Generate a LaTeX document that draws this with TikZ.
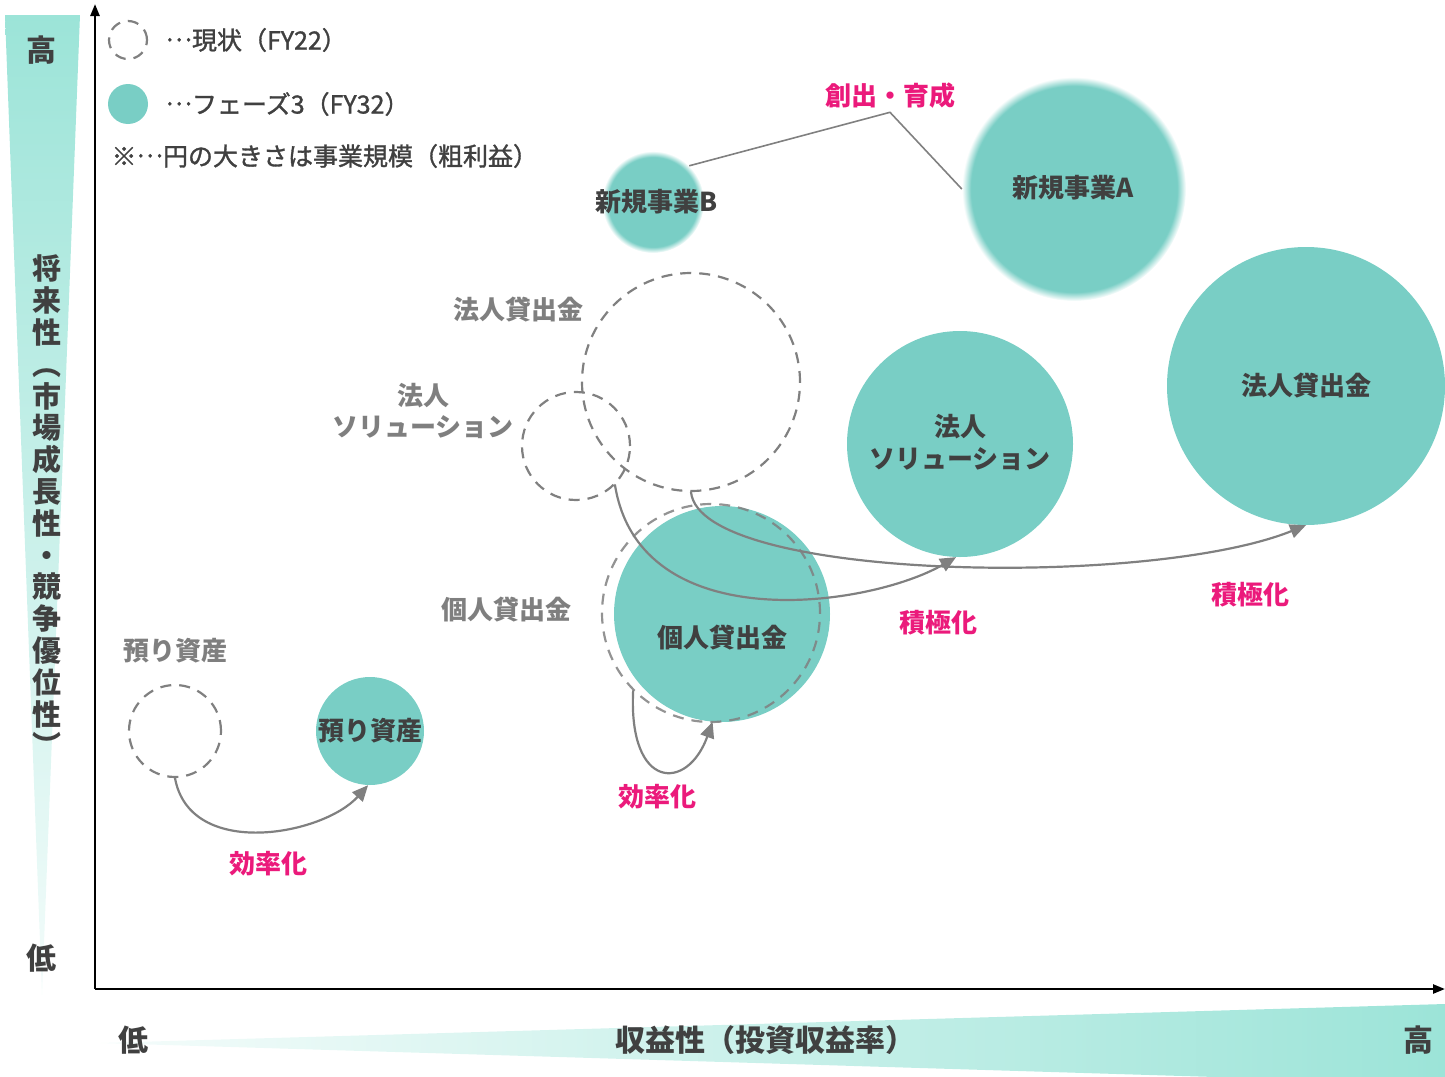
\documentclass[tikz,border=0pt]{standalone}
\usepackage{fontspec}
\setmainfont{Noto Sans CJK JP}
\newfontfamily\medfont{Noto Sans CJK JP}[FakeBold=1.3]
\usetikzlibrary{arrows.meta}
\definecolor{tealfill}{HTML}{79CEC5}
\definecolor{barcol}{HTML}{9CE4D8}
\definecolor{txtdark}{HTML}{404040}
\definecolor{txtgray}{HTML}{7F7F7F}
\definecolor{linegray}{HTML}{808080}
\definecolor{pinktxt}{HTML}{EB1A7B}
\pgfdeclareradialshading{blurB}{\pgfpoint{0bp}{0bp}}{color(0bp)=(tealfill); color(22bp)=(tealfill); color(25bp)=(white); color(50bp)=(white)}
\pgfdeclareradialshading{blurA}{\pgfpoint{0bp}{0bp}}{color(0bp)=(tealfill); color(23bp)=(tealfill); color(25bp)=(white); color(50bp)=(white)}
\newcommand\mdots{\raisebox{0.33em}{…}}
\begin{document}
\begin{tikzpicture}[x=1pt,y=-1pt,line join=round,
	now/.style={circle,draw=linegray,line width=2.2pt,dash pattern=on 11pt off 8pt,inner sep=0pt},
	fut/.style={circle,fill=tealfill,inner sep=0pt},
	dark/.style={text=txtdark,font=\fontsize{26}{32}\selectfont\bfseries,align=center},
	gray/.style={text=txtgray,font=\fontsize{26}{31}\selectfont\bfseries,align=center},
	pink/.style={text=pinktxt,font=\fontsize{26}{31}\selectfont\bfseries},
	legtxt/.style={anchor=west,text=txtdark,font=\fontsize{25}{30}\selectfont\medfont},
	axlbl/.style={text=txtdark,font=\fontsize{30}{32}\selectfont\bfseries},
	arr/.style={draw=linegray,line width=2.2pt,line cap=round,-{Triangle[length=16pt,width=14pt]}}]
	\useasboundingbox (0,0) rectangle (1445,1076);
	% gradient bars
	\shade[top color=barcol,bottom color=barcol!12] (5,15) -- (80,15) -- (42,995) -- cycle;
	\shade[left color=barcol!10,right color=barcol] (100,1043) -- (1445,1004) -- (1445,1084) -- cycle;
	% axes
	\coordinate (o) at (95,989);
	\coordinate (ytop) at (95,4);
	\coordinate (xend) at (1445,989);
	\draw[line width=2.4pt,-{Triangle[length=12pt,width=9pt]}] (o) -- (ytop);
	\draw[line width=2.4pt,-{Triangle[length=12pt,width=9pt]}] (o) -- (xend);
	\node[axlbl] (yhi) at (42,50) {高};
	\node[axlbl] (ylo) at (42,958) {低};
	\node[axlbl,align=center,font=\fontsize{29}{31.8}\selectfont\bfseries] (ytxt) at (47,506)
		{将\\来\\性\\︵\\市\\場\\成\\長\\性\\・\\競\\争\\優\\位\\性\\︶};
	\node[axlbl] (xlo) at (133,1040) {低};
	\node[axlbl] (xtxt) at (765,1040) {収益性（投資収益率）};
	\node[axlbl] (xhi) at (1418,1040) {高};
	% legend
	\node[now,minimum size=38] (lgNow) at (128,40) {};
	\node[fut,minimum width=38,minimum height=40] (lgFut) at (128,104) {};
	\node[legtxt] (lgNowT) at (162,40) {\mdots 現状（FY22）};
	\node[legtxt] (lgFutT) at (162,104) {\mdots フェーズ3（FY32）};
	\node[legtxt] (lgNote) at (108,156) {※\mdots 円の大きさは事業規模（粗利益）};
	% FY32 circles
	\node[circle,shading=blurB,inner sep=0pt,minimum size=102] (fB) at (653,202) {};
	\node[circle,shading=blurA,inner sep=0pt,minimum size=224] (fA) at (1074,189) {};
	\node[fut,minimum size=226] (fHS) at (960,444) {};
	\node[fut,minimum size=278] (fHK) at (1306,386) {};
	\node[fut,minimum size=216] (fKJ) at (722,614) {};
	\node[fut,minimum size=108] (fAZ) at (370,731) {};
	% FY22 circles
	\node[now,minimum size=218] (dHK) at (691,382) {};
	\node[now,minimum size=108] (dHS) at (576,446) {};
	\node[now,minimum size=218,draw opacity=0.85] (dKJ) at (711,613) {};
	\node[now,minimum size=92] (dAZ) at (175,731) {};
	% arrows
	\node[pink] (sou) at (890,96) {創出・育成};
	\draw[linegray,line width=1.6pt] (fB.45) -- (sou.south) -- (fA.west);
	\draw[arr] (dAZ.south) .. controls +(15,82) and +(-45,50) .. (fAZ.-92);
	\draw[arr] (dKJ.-135) .. controls +(-5,100) and +(-25,70) .. (fKJ.-95);
	\draw[arr] (dHS.-45) .. controls +(25,155) and +(-87,50) .. (fHS.-92);
	\draw[arr] (dHK.south) .. controls +(9,89) and +(-156,63) .. (fHK.south);
	% labels
	\node[dark] (tB) at (657,202) {新規事業B};
	\node[dark] (tA) at (1073,188) {新規事業A};
	\node[dark] (tHS) at (960,442) {法人\\ソリューション};
	\node[dark] (tHK) at (1306,386) {法人貸出金};
	\node[dark] (tKJ) at (722,638) {個人貸出金};
	\node[dark] (tAZ) at (370,731) {預り資産};
	\node[gray] (gHK) at (518,310) {法人貸出金};
	\node[gray] (gHS) at (423,411) {法人\\ソリューション};
	\node[gray] (gKJ) at (506,610) {個人貸出金};
	\node[gray] (gAZ) at (175,651) {預り資産};
	\node[pink] (p1) at (268,864) {効率化};
	\node[pink] (p2) at (657,797) {効率化};
	\node[pink] (p3) at (938,623) {積極化};
	\node[pink] (p4) at (1250,595) {積極化};
\end{tikzpicture}
\end{document}
